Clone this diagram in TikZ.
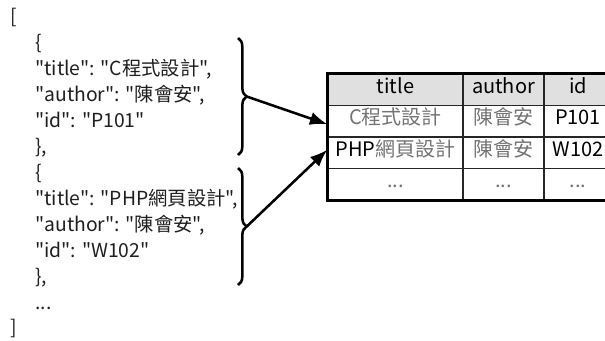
\documentclass[tikz,border=0pt]{standalone}
\usepackage{fontspec}
\setmainfont{Noto Sans CJK TC}[Ligatures=TeXOff]
\usetikzlibrary{positioning, arrows.meta, decorations.pathreplacing}

\newcommand{\soft}[1]{\textcolor{black!55}{#1}}

\begin{document}
\begin{tikzpicture}[x=0.75pt, y=-0.75pt]
        \tikzstyle{code}=[anchor=west, inner sep=0pt, text=black!88, font=\fontsize{14.5}{16}\selectfont, text height=0.75em, text depth=0.2em];
        \tikzstyle{cell}=[draw=black!85, line width=1.1pt, inner sep=0pt, minimum height=23.6pt, font=\fontsize{15}{16}\selectfont, text height=0.75em, text depth=0.2em];
        \tikzstyle{brace}=[line width=1.9pt, decorate, decoration={brace, amplitude=6.5pt}];
        \tikzstyle{link}=[line width=1.9pt, -{Latex[length=13pt, width=10pt]}];

        \clip (0, 0) rectangle (605, 340);

        % json source
        \node[code] (l0) at (10, 20) {[};
        \node[code] (l1) at (35, 46) {\{};
        \node[code] (l2) at (35, 72) {"title": "C程式設計",};
        \node[code] (l3) at (35, 98) {"author": "陳會安",};
        \node[code] (l4) at (35, 124) {"id": "P101"};
        \node[code] (l5) at (35, 150) {\},};
        \node[code] (l6) at (35, 176) {\{};
        \node[code] (l7) at (35, 202) {"title": "PHP網頁設計",};
        \node[code] (l8) at (35, 228) {"author": "陳會安",};
        \node[code] (l9) at (35, 254) {"id": "W102"};
        \node[code] (l10) at (35, 280) {\},};
        \node[code] (l11) at (35, 306) {...};
        \node[code] (l12) at (10, 331) {]};

        % braces round the two objects
        \draw[brace] (238, 38) -- (238, 155);
        \draw[brace] (238, 168) -- (238, 285);
        \coordinate (b1) at (246.7, 96.5);
        \coordinate (b2) at (246.7, 226.5);

        % table
        \node[cell, fill=black!12, minimum width=101.25pt] (h1) at (395.5, 89.75) {title};
        \node[cell, fill=black!12, minimum width=60.75pt] (h2) at (503.5, 89.75) {author};
        \node[cell, fill=black!12, minimum width=51pt] (h3) at (578, 89.75) {id};

        \node[cell, minimum width=101.25pt] (r1c1) at (395.5, 121.25) {\soft{C程式設計}};
        \node[cell, minimum width=60.75pt] (r1c2) at (503.5, 121.25) {\soft{陳會安}};
        \node[cell, minimum width=51pt] (r1c3) at (578, 121.25) {P101};

        \node[cell, minimum width=101.25pt] (r2c1) at (395.5, 152.75) {PHP\soft{網頁設計}};
        \node[cell, minimum width=60.75pt] (r2c2) at (503.5, 152.75) {\soft{陳會安}};
        \node[cell, minimum width=51pt] (r2c3) at (578, 152.75) {W102};

        \node[cell, minimum width=101.25pt] (r3c1) at (395.5, 184.25) {\soft{...}};
        \node[cell, minimum width=60.75pt] (r3c2) at (503.5, 184.25) {\soft{...}};
        \node[cell, minimum width=51pt] (r3c3) at (578, 184.25) {\soft{...}};

        \draw[line width=2.2pt] (h1.north west) rectangle (r3c3.south east);

        \draw[link] (b1) -- ([yshift=-2.25pt]r1c1.west);
        \draw[link] (b2) -- ([yshift=2.25pt]r2c1.west);
    \end{tikzpicture}
\end{document}
